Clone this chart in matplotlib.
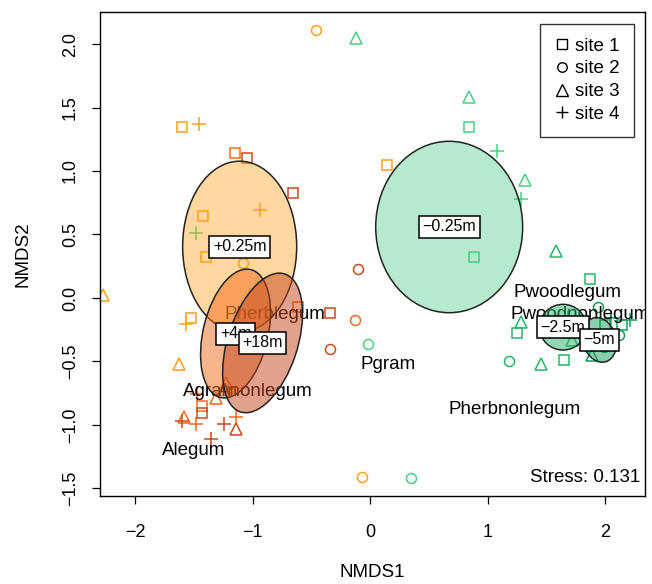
import matplotlib
matplotlib.use("Agg")
import matplotlib.pyplot as plt
from matplotlib.patches import Ellipse
from matplotlib.lines import Line2D

plt.rcParams['font.family'] = ['Liberation Sans', 'DejaVu Sans']

# treatment groups (colour) and their ellipses
groups = ["+0.25m", "+4m", "+18m", "-0.25m", "-2.5m", "-5m"]
pt_colors = ["#FFA01C", "#F26B1D", "#CC4A1A", "#45D283", "#22B86B", "#0E9E57"]
fill_colors = ["#FFA01C", "#F26B1D", "#C2461C", "#3DC97F", "#22B46B", "#12A05C"]
fill_alpha = [0.42, 0.5, 0.5, 0.38, 0.5, 0.5]
ell_x = [-1.11, -1.145, -0.915, 0.672, 1.64, 1.95]
ell_y = [0.405, -0.28, -0.354, 0.559, -0.23, -0.33]
ell_w = [0.97, 1.04, 1.15, 1.25, 0.40, 0.28]
ell_h = [1.345, 0.55, 0.59, 1.35, 0.36, 0.36]
ell_ang = [0, 75, 70, 0, 0, 20]
ell_label = ["+0.25m", "+4m", "+18m", "\u22120.25m", "\u22122.5m", "\u22125m"]

# site scores: x, y, site (1-4), group index
pts_x = [-0.46, -1.60, -1.46, -1.42, -0.94, -1.40, -1.085, 0.14, -2.27, -1.63, -0.07, -1.52, -1.57,
         -1.47, -1.31, -1.43, -1.48, -1.14, -1.58, -1.15, -0.61, -0.13, -1.23,
         -1.43, -1.60, -1.24, -1.14, -1.35, -1.05, -0.66, -0.34, -0.34, -0.10,
         -0.12, 0.84, 0.84, 1.08, 1.32, 1.28, 0.88, -0.02, 0.35, -1.48,
         1.28, 1.25, 1.18, 1.45, 1.65, 1.58, 1.87, 1.715, 1.68,
         1.94, 2.00, 2.14, 2.05, 1.885, 1.99, 2.12, 2.21]
pts_y = [2.11, 1.35, 1.37, 0.645, 0.69, 0.32, 0.275, 1.05, 0.02, -0.52, -1.41, -0.16, -0.205,
         -0.76, -0.79, -0.85, -0.99, -0.94, -0.94, 1.14, -0.07, -0.17, -0.67,
         -0.905, -0.97, -0.99, -1.03, -1.11, 1.10, 0.83, -0.12, -0.40, 0.23,
         2.05, 1.58, 1.345, 1.16, 0.93, 0.78, 0.32, -0.36, -1.42, 0.51,
         -0.19, -0.275, -0.50, -0.52, -0.49, 0.37, 0.15, -0.33, -0.16,
         -0.07, -0.21, -0.21, -0.16, -0.45, -0.39, -0.29, -0.17]
pts_site = [2, 1, 4, 1, 4, 1, 2, 1, 3, 3, 2, 1, 4,
            4, 3, 1, 4, 4, 3, 1, 1, 2, 3,
            1, 4, 4, 3, 4, 1, 1, 1, 2, 2,
            3, 3, 1, 4, 3, 4, 1, 2, 2, 4,
            3, 1, 2, 3, 1, 3, 1, 3, 4,
            2, 1, 1, 4, 3, 2, 2, 4]
pts_grp = [0] * 13 + [1] * 10 + [2] * 10 + [3] * 10 + [4] * 9 + [5] * 8

# functional group labels (species scores)
sp_names = ["Pwoodlegum", "Pwoodnonlegum", "Pherbnonlegum", "Pgram", "Pherblegum",
            "Agram", "Anonlegum", "Alegum"]
sp_x = [1.68, 1.79, 1.225, 0.15, -0.81, -1.36, -0.89, -1.50]
sp_y = [0.04, -0.13, -0.88, -0.52, -0.13, -0.74, -0.74, -1.20]

site_names = ["site 1", "site 2", "site 3", "site 4"]
site_marker = {1: 's', 2: 'o', 3: '^', 4: '+'}
site_msize = {1: 7.0, 2: 7.2, 3: 8.5, 4: 9.5}

fig = plt.figure(figsize=(6.52, 5.84), dpi=100)
ax = fig.add_axes([0.153, 0.151, 0.836, 0.828])

for x, y, s, g in zip(pts_x, pts_y, pts_site, pts_grp):
    ax.plot(x, y, marker=site_marker[s], ms=site_msize[s], mfc='none',
            mec=pt_colors[g], mew=1.1, ls='none', zorder=2)

for n, x, y in zip(sp_names, sp_x, sp_y):
    ax.text(x, y, n, ha='center', va='center', fontsize=13.5, zorder=3, clip_on=True)

for i in range(len(groups)):
    e = Ellipse((ell_x[i], ell_y[i]), ell_w[i], ell_h[i], angle=ell_ang[i],
                facecolor=fill_colors[i], alpha=fill_alpha[i], edgecolor='none', zorder=4)
    ax.add_patch(e)
    e2 = Ellipse((ell_x[i], ell_y[i]), ell_w[i], ell_h[i], angle=ell_ang[i],
                 facecolor='none', edgecolor='#222222', lw=1.1, zorder=4)
    ax.add_patch(e2)
    ax.text(ell_x[i], ell_y[i], ell_label[i], ha='center', va='center', fontsize=11.5,
            zorder=5, bbox=dict(boxstyle='square,pad=0.22', fc='white', ec='black', lw=1.1))

ax.text(2.30, -1.41, "Stress: 0.131", ha='right', va='center', fontsize=13.5)

handles = [Line2D([], [], marker=site_marker[k], ms=site_msize[k] * 0.95, mfc='none',
                  mec='black', mew=1.0, ls='none') for k in [1, 2, 3, 4]]
leg = ax.legend(handles, site_names, loc='upper right', fontsize=13.5, frameon=True,
                fancybox=False, borderaxespad=0.6, handletextpad=0.3, labelspacing=0.3,
                borderpad=0.75, handlelength=0.8)
leg.get_frame().set_edgecolor('black')
leg.get_frame().set_linewidth(1.0)
leg.set_zorder(10)

ax.set_xlim(-2.30, 2.336)
ax.set_ylim(-1.558, 2.25)
ax.set_xticks([-2, -1, 0, 1, 2])
ax.set_yticks([-1.5, -1.0, -0.5, 0.0, 0.5, 1.0, 1.5, 2.0])
ax.set_yticklabels([f"{v:.1f}".replace('-', '\u2212') for v in [-1.5, -1.0, -0.5, 0.0, 0.5, 1.0, 1.5, 2.0]],
                   rotation=90, va='center')
ax.tick_params(direction='out', length=6, width=0.9, labelsize=13, pad=14)
ax.tick_params(axis='y', pad=9)
for sp in ax.spines.values():
    sp.set_linewidth(1.0)
ax.set_xlabel("NMDS1", fontsize=13.5, labelpad=17)
ax.set_ylabel("NMDS2", fontsize=13.5, labelpad=22)

fig.savefig("out.png", dpi=100)
